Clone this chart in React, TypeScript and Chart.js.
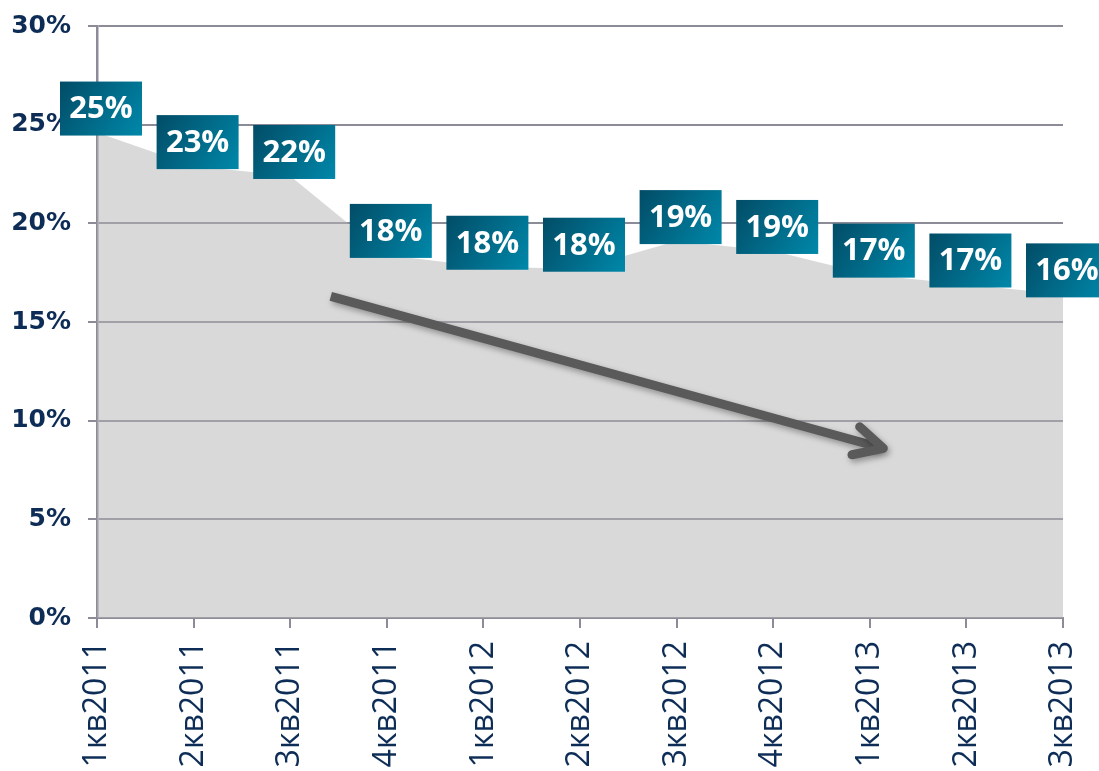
import React, { useEffect, useRef } from "react";
import { Chart, registerables } from "chart.js";

Chart.register(...registerables);

const categories = [
  "1кв2011", "2кв2011", "3кв2011", "4кв2011",
  "1кв2012", "2кв2012", "3кв2012", "4кв2012",
  "1кв2013", "2кв2013", "3кв2013",
];
const shareValues = [24.6, 22.9, 22.4, 18.4, 17.8, 17.7, 19.1, 18.6, 17.4, 16.9, 16.4];
const yTickStep = 5;
const yMin = 0;
const yMax = 30;
// trend arrow in data space: [category index, percent]
const arrowStart = [2.42, 16.3];
const arrowEnd = [8.14, 8.6];

const W = 1099;
const H = 800;

const navy = "#0d2d56";
const gridColor = "#8c8c98";

const overlayPlugin = {
  id: "overlay",
  afterDatasetsDraw(chart: any) {
    const { ctx, scales } = chart;
    const xs = scales.x;
    const ys = scales.y;

    // arrow
    const sx = xs.getPixelForValue(arrowStart[0]);
    const sy = ys.getPixelForValue(arrowStart[1]);
    const ex = xs.getPixelForValue(arrowEnd[0]);
    const ey = ys.getPixelForValue(arrowEnd[1]);
    const ang = Math.atan2(ey - sy, ex - sx);
    const armLen = 32;
    const armAng = (27 * Math.PI) / 180;
    ctx.save();
    ctx.strokeStyle = "#5a5a5a";
    ctx.lineWidth = 9;
    ctx.lineJoin = "round";
    ctx.shadowColor = "rgba(0,0,0,0.35)";
    ctx.shadowBlur = 6;
    ctx.shadowOffsetX = 2;
    ctx.shadowOffsetY = 3;
    ctx.lineCap = "butt";
    ctx.beginPath();
    ctx.moveTo(sx, sy);
    ctx.lineTo(ex - Math.cos(ang) * 4, ey - Math.sin(ang) * 4);
    ctx.stroke();
    ctx.lineCap = "round";
    ctx.beginPath();
    ctx.moveTo(ex - Math.cos(ang - armAng) * armLen, ey - Math.sin(ang - armAng) * armLen);
    ctx.lineTo(ex, ey);
    ctx.lineTo(ex - Math.cos(ang + armAng) * armLen, ey - Math.sin(ang + armAng) * armLen);
    ctx.stroke();
    ctx.restore();

    // data label boxes
    const meta = chart.getDatasetMeta(0);
    const bw = 82;
    const bh = 54;
    ctx.save();
    meta.data.forEach((pt: any, i: number) => {
      const cx = pt.x + 4;
      const cy = pt.y - 24;
      const x0 = cx - bw / 2;
      const y0 = cy - bh / 2;
      const g = ctx.createLinearGradient(x0, y0, x0 + bw, y0 + bh);
      g.addColorStop(0, "#024c66");
      g.addColorStop(1, "#0088aa");
      ctx.fillStyle = g;
      ctx.fillRect(x0, y0, bw, bh);
      ctx.fillStyle = "#ffffff";
      ctx.font = "bold 31px 'Open Sans'";
      ctx.textAlign = "center";
      ctx.textBaseline = "middle";
      ctx.fillText(Math.round(shareValues[i]) + "%", cx, cy + 1);
    });
    ctx.restore();
  },
};

export default function App() {
  const ref = useRef<HTMLCanvasElement | null>(null);
  useEffect(() => {
    if (!ref.current) return;
    const chart = new Chart(ref.current, {
      type: "line",
      data: {
        labels: categories,
        datasets: [
          {
            data: shareValues,
            fill: "origin",
            backgroundColor: "rgba(180,180,180,0.507)",
            borderWidth: 0,
            pointRadius: 0,
            tension: 0,
          },
        ],
      },
      options: {
        animation: false,
        responsive: false,
        layout: { padding: { top: 26, right: 36, left: 0, bottom: 0 } },
        plugins: { legend: { display: false }, tooltip: { enabled: false } },
        scales: {
          x: {
            offset: false,
            grid: {
              display: true,
              drawOnChartArea: false,
              drawTicks: true,
              tickLength: 10,
              color: gridColor,
              lineWidth: 2,
            },
            border: { display: true, color: gridColor, width: 2 },
            ticks: {
              autoSkip: false,
              minRotation: 90,
              maxRotation: 90,
              padding: 13,
              color: navy,
              font: { family: "'Open Sans'", size: 32 },
            },
            afterFit(scale: any) {
              scale.height = H - 618;
              scale.paddingLeft = 0;
              scale.paddingRight = 0;
            },
          },
          y: {
            min: yMin,
            max: yMax,
            grid: {
              color: gridColor,
              lineWidth: 2,
              drawTicks: true,
              tickLength: 9,
            },
            border: { display: true, color: gridColor, width: 2.5 },
            ticks: {
              stepSize: yTickStep,
              padding: 17,
              color: navy,
              font: { family: "'DejaVu Sans'", size: 25, weight: "bold" },
              callback: (v: any) => v + "%",
            },
            afterFit(scale: any) {
              scale.width = 97;
              scale.paddingTop = 0;
              scale.paddingBottom = 0;
            },
          },
        },
      },
      plugins: [overlayPlugin],
    });
    if ((document as any).fonts && (document as any).fonts.ready) {
      (document as any).fonts.ready.then(() => chart.update());
    }
    return () => chart.destroy();
  }, []);
  return (
    <div
      style={{
        position: "fixed",
        left: 0,
        top: 0,
        width: W,
        height: 771,
        overflow: "hidden",
        background: "#ffffff",
      }}
    >
      <canvas ref={ref} width={W} height={H} style={{ width: W, height: H, display: "block" }} />
    </div>
  );
}
